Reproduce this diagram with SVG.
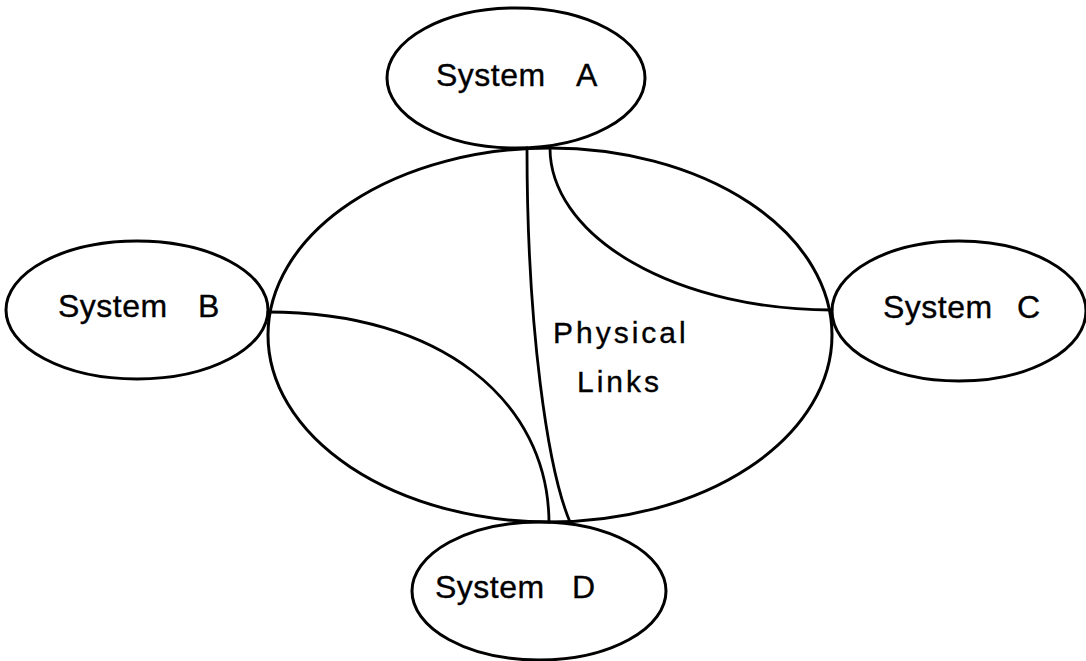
<svg xmlns="http://www.w3.org/2000/svg" width="1086" height="661" viewBox="0 0 1086 661">
  <style>
    .shape { fill: none; stroke: #000; stroke-width: 3; }
    .link { fill: none; stroke: #000; stroke-width: 2.8; stroke-linecap: round; }
    .label { font-family: "Liberation Sans", Arial, sans-serif; font-size: 32px; fill: #000; stroke: #000; stroke-width: 0.35; letter-spacing: 0.5px; }
    .inner { font-size: 30px; letter-spacing: 3px; }
  </style>
  <rect width="1086" height="661" fill="#fff"/>

  <!-- central network cloud -->
  <g id="network">
    <ellipse class="shape" cx="550" cy="335" rx="282" ry="187"/>
    <text class="label inner" x="553" y="343">Physical</text>
    <text class="label inner" x="577" y="392">Links</text>
  </g>

  <g id="system-a">
    <ellipse class="shape" cx="516" cy="78" rx="129" ry="70"/>
    <text class="label" y="86"><tspan x="436">System</tspan><tspan x="576">A</tspan></text>
  </g>

  <g id="system-b">
    <ellipse class="shape" cx="137" cy="310" rx="131" ry="69"/>
    <text class="label" y="317"><tspan x="58">System</tspan><tspan x="198">B</tspan></text>
  </g>

  <g id="system-c">
    <ellipse class="shape" cx="959" cy="311" rx="127" ry="70"/>
    <text class="label" y="318"><tspan x="883">System</tspan><tspan x="1017">C</tspan></text>
  </g>

  <g id="system-d">
    <ellipse class="shape" cx="539" cy="591" rx="127" ry="69"/>
    <text class="label" y="598"><tspan x="435">System</tspan><tspan x="572">D</tspan></text>
  </g>

  <!-- physical links between systems -->
  <g id="connectors">
    <path class="link" d="M527,148 C527,330 548,470 570,522"/>
    <path class="link" d="M550,148 A282,162 0 0 0 832,310"/>
    <path class="link" d="M268,312 C440,312 548,400 549,522"/>
  </g>
</svg>
